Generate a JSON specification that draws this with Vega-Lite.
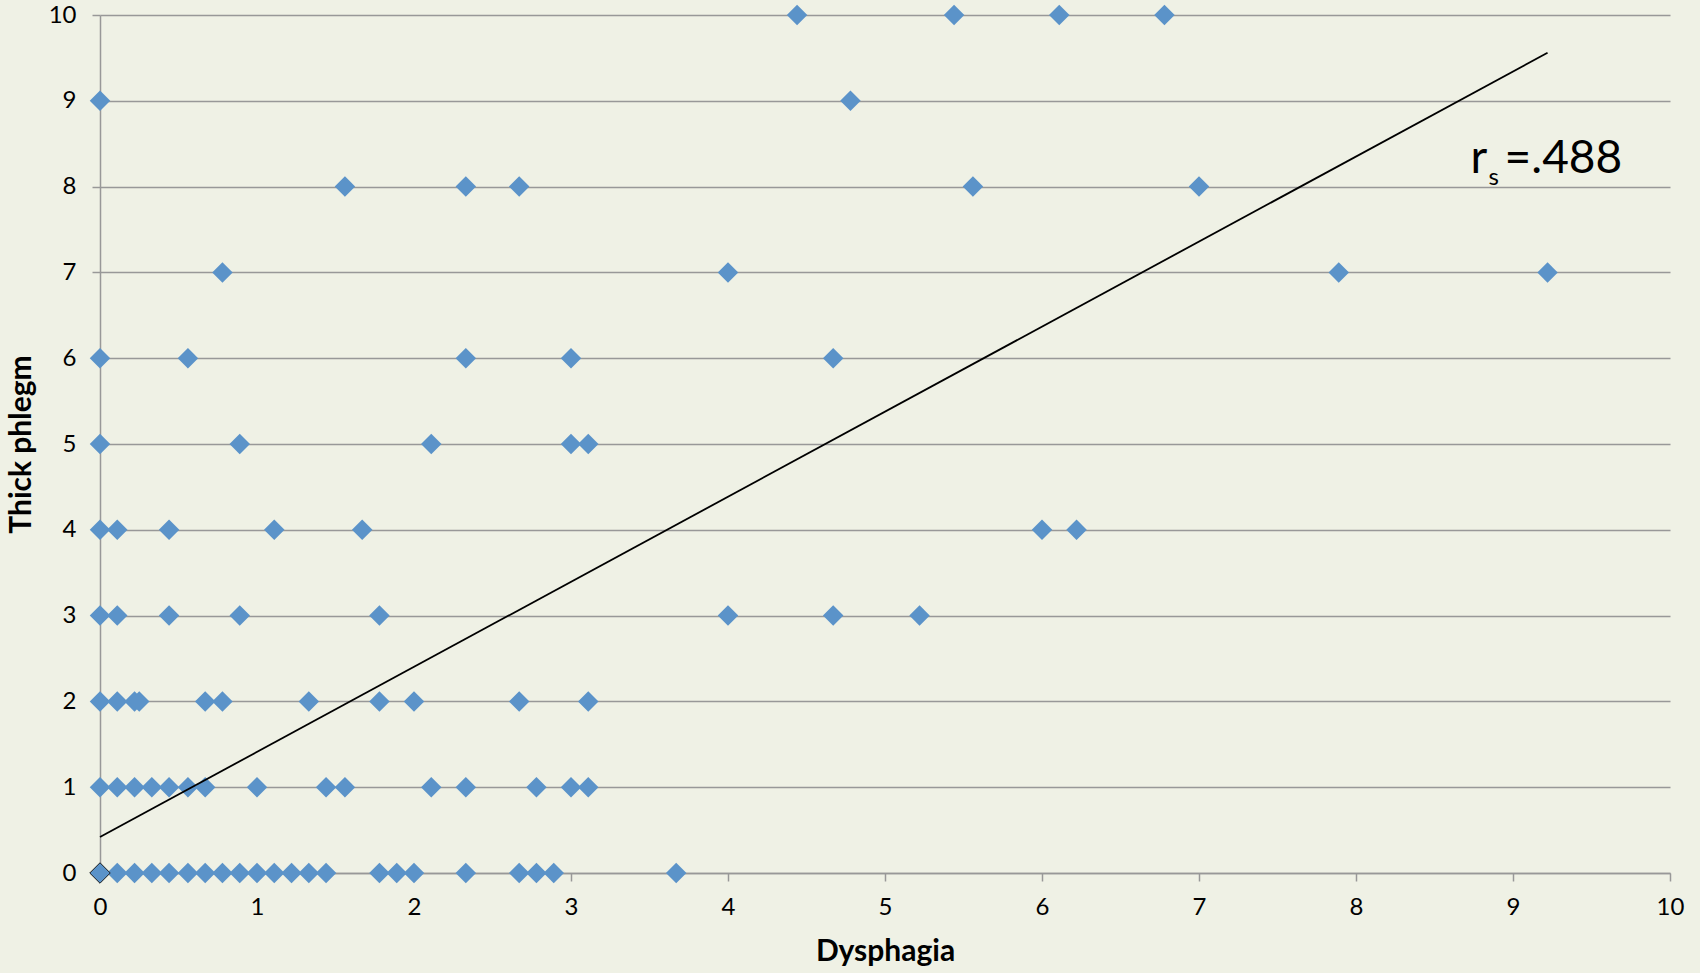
{
  "$schema": "https://vega.github.io/schema/vega-lite/v6.json",
  "width": 1570,
  "height": 858,
  "autosize": {"type": "none"},
  "padding": {"left": 100, "top": 15, "right": 30, "bottom": 100},
  "background": "#EFF1E5",
  "config": {
    "view": {"stroke": null},
    "font": "Lato",
    "axis": {
      "domainColor": "#989898",
      "domainWidth": 1.5,
      "tickColor": "#989898",
      "tickWidth": 1.5,
      "tickSize": 8,
      "labelFontSize": 24,
      "labelColor": "#000000",
      "labelFont": "Lato",
      "titleFont": "Lato",
      "titleFontSize": 30,
      "titleFontWeight": "bold",
      "titleColor": "#000000",
      "gridColor": "#989898",
      "gridWidth": 1.5
    }
  },
  "datasets": {
    "points": [
      {"dysphagia": 0, "phlegm": 0}, {"dysphagia": 0.11, "phlegm": 0}, {"dysphagia": 0.22, "phlegm": 0}, {"dysphagia": 0.33, "phlegm": 0}, {"dysphagia": 0.44, "phlegm": 0}, {"dysphagia": 0.56, "phlegm": 0}, {"dysphagia": 0.67, "phlegm": 0}, {"dysphagia": 0.78, "phlegm": 0}, {"dysphagia": 0.89, "phlegm": 0}, {"dysphagia": 1.0, "phlegm": 0}, {"dysphagia": 1.11, "phlegm": 0}, {"dysphagia": 1.22, "phlegm": 0}, {"dysphagia": 1.33, "phlegm": 0}, {"dysphagia": 1.44, "phlegm": 0}, {"dysphagia": 1.78, "phlegm": 0}, {"dysphagia": 1.89, "phlegm": 0}, {"dysphagia": 2.0, "phlegm": 0}, {"dysphagia": 2.33, "phlegm": 0}, {"dysphagia": 2.67, "phlegm": 0}, {"dysphagia": 2.78, "phlegm": 0}, {"dysphagia": 2.89, "phlegm": 0}, {"dysphagia": 3.67, "phlegm": 0},
      {"dysphagia": 0, "phlegm": 1}, {"dysphagia": 0.11, "phlegm": 1}, {"dysphagia": 0.22, "phlegm": 1}, {"dysphagia": 0.33, "phlegm": 1}, {"dysphagia": 0.44, "phlegm": 1}, {"dysphagia": 0.56, "phlegm": 1}, {"dysphagia": 0.67, "phlegm": 1}, {"dysphagia": 1.0, "phlegm": 1}, {"dysphagia": 1.44, "phlegm": 1}, {"dysphagia": 1.56, "phlegm": 1}, {"dysphagia": 2.11, "phlegm": 1}, {"dysphagia": 2.33, "phlegm": 1}, {"dysphagia": 2.78, "phlegm": 1}, {"dysphagia": 3.0, "phlegm": 1}, {"dysphagia": 3.11, "phlegm": 1},
      {"dysphagia": 0, "phlegm": 2}, {"dysphagia": 0.11, "phlegm": 2}, {"dysphagia": 0.22, "phlegm": 2}, {"dysphagia": 0.25, "phlegm": 2}, {"dysphagia": 0.67, "phlegm": 2}, {"dysphagia": 0.78, "phlegm": 2}, {"dysphagia": 1.33, "phlegm": 2}, {"dysphagia": 1.78, "phlegm": 2}, {"dysphagia": 2.0, "phlegm": 2}, {"dysphagia": 2.67, "phlegm": 2}, {"dysphagia": 3.11, "phlegm": 2},
      {"dysphagia": 0, "phlegm": 3}, {"dysphagia": 0.11, "phlegm": 3}, {"dysphagia": 0.44, "phlegm": 3}, {"dysphagia": 0.89, "phlegm": 3}, {"dysphagia": 1.78, "phlegm": 3}, {"dysphagia": 4.0, "phlegm": 3}, {"dysphagia": 4.67, "phlegm": 3}, {"dysphagia": 5.22, "phlegm": 3},
      {"dysphagia": 0, "phlegm": 4}, {"dysphagia": 0.11, "phlegm": 4}, {"dysphagia": 0.44, "phlegm": 4}, {"dysphagia": 1.11, "phlegm": 4}, {"dysphagia": 1.67, "phlegm": 4}, {"dysphagia": 6.0, "phlegm": 4}, {"dysphagia": 6.22, "phlegm": 4},
      {"dysphagia": 0, "phlegm": 5}, {"dysphagia": 0.89, "phlegm": 5}, {"dysphagia": 2.11, "phlegm": 5}, {"dysphagia": 3.0, "phlegm": 5}, {"dysphagia": 3.11, "phlegm": 5},
      {"dysphagia": 0, "phlegm": 6}, {"dysphagia": 0.56, "phlegm": 6}, {"dysphagia": 2.33, "phlegm": 6}, {"dysphagia": 3.0, "phlegm": 6}, {"dysphagia": 4.67, "phlegm": 6},
      {"dysphagia": 0.78, "phlegm": 7}, {"dysphagia": 4.0, "phlegm": 7}, {"dysphagia": 7.89, "phlegm": 7}, {"dysphagia": 9.22, "phlegm": 7},
      {"dysphagia": 1.56, "phlegm": 8}, {"dysphagia": 2.33, "phlegm": 8}, {"dysphagia": 2.67, "phlegm": 8}, {"dysphagia": 5.56, "phlegm": 8}, {"dysphagia": 7.0, "phlegm": 8},
      {"dysphagia": 0, "phlegm": 9}, {"dysphagia": 4.78, "phlegm": 9},
      {"dysphagia": 4.44, "phlegm": 10}, {"dysphagia": 5.44, "phlegm": 10}, {"dysphagia": 6.11, "phlegm": 10}, {"dysphagia": 6.78, "phlegm": 10}
    ],
    "trend": [
      {"dysphagia": 0, "phlegm": 0.42},
      {"dysphagia": 9.22, "phlegm": 9.56}
    ],
    "annotation": [
      {"dysphagia": 8.73, "phlegm": 8.16}
    ]
  },
  "layer": [
    {
      "data": {"name": "points"},
      "mark": {"type": "point", "shape": "diamond", "filled": true, "size": 420, "color": "#5B93C9", "opacity": 1},
      "encoding": {
        "x": {
          "field": "dysphagia",
          "type": "quantitative",
          "scale": {"domain": [0, 10], "nice": false, "zero": true},
          "axis": {"title": "Dysphagia", "values": [0, 1, 2, 3, 4, 5, 6, 7, 8, 9, 10], "format": "d", "grid": false, "labelPadding": 14, "titlePadding": 17, "labelFlush": false}
        },
        "y": {
          "field": "phlegm",
          "type": "quantitative",
          "scale": {"domain": [0, 10], "nice": false, "zero": true},
          "axis": {"title": "Thick phlegm", "values": [0, 1, 2, 3, 4, 5, 6, 7, 8, 9, 10], "format": "d", "grid": true, "labelPadding": 16, "titlePadding": 12, "labelFlush": false}
        }
      }
    },
    {
      "data": {"name": "points"},
      "transform": [{"filter": "datum.dysphagia == 0 && datum.phlegm == 0"}],
      "mark": {"type": "point", "shape": "diamond", "filled": true, "size": 420, "fill": "#5B93C9", "stroke": "#222222", "strokeWidth": 1, "opacity": 1},
      "encoding": {
        "x": {"field": "dysphagia", "type": "quantitative"},
        "y": {"field": "phlegm", "type": "quantitative"}
      }
    },
    {
      "data": {"name": "trend"},
      "mark": {"type": "line", "color": "#000000", "strokeWidth": 1.8},
      "encoding": {
        "x": {"field": "dysphagia", "type": "quantitative"},
        "y": {"field": "phlegm", "type": "quantitative"}
      }
    },
    {
      "data": {"name": "annotation"},
      "mark": {"type": "text", "text": "r", "fontSize": 46, "font": "Lato", "align": "left", "baseline": "alphabetic", "color": "#000000"},
      "encoding": {
        "x": {"field": "dysphagia", "type": "quantitative"},
        "y": {"field": "phlegm", "type": "quantitative"}
      }
    },
    {
      "data": {"name": "annotation"},
      "mark": {"type": "text", "text": "s", "fontSize": 24, "font": "Lato", "align": "left", "baseline": "alphabetic", "dx": 18, "dy": 12, "color": "#000000"},
      "encoding": {
        "x": {"field": "dysphagia", "type": "quantitative"},
        "y": {"field": "phlegm", "type": "quantitative"}
      }
    },
    {
      "data": {"name": "annotation"},
      "mark": {"type": "text", "text": "=.488", "fontSize": 46, "font": "Lato", "align": "left", "baseline": "alphabetic", "dx": 34, "color": "#000000"},
      "encoding": {
        "x": {"field": "dysphagia", "type": "quantitative"},
        "y": {"field": "phlegm", "type": "quantitative"}
      }
    }
  ]
}
